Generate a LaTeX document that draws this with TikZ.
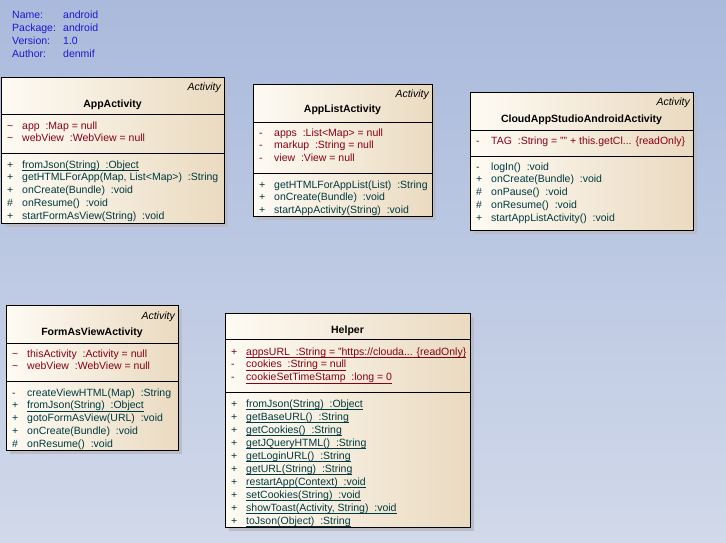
\documentclass[tikz,border=0pt]{standalone}
\usepackage{fontspec}
\setmainfont{Liberation Sans}
\definecolor{bgtop}{RGB}{170,186,220}
\definecolor{bgbot}{RGB}{209,217,234}
\definecolor{boxl}{RGB}{254,251,244}
\definecolor{boxr}{RGB}{234,218,192}
\definecolor{shadowc}{RGB}{186,189,198}
\definecolor{attrc}{RGB}{135,0,20}
\definecolor{methc}{RGB}{0,58,64}
\definecolor{metac}{RGB}{25,25,205}
\newcommand{\umlsize}{\fontsize{10.5}{12.8}\selectfont}
\newcommand{\vis}[1]{\makebox[15pt][l]{#1}}
\newcommand{\statul}[1]{\setbox0\hbox{#1}\rlap{\rule[-2.6pt]{\wd0}{0.8pt}}\box0}
\tikzset{
  classbox/.style={draw=black,line width=1pt,left color=boxl,right color=boxr,anchor=north west,inner sep=0pt},
  divider/.style={draw=black,line width=0.8pt},
  stereo/.style={font={\umlsize\itshape},anchor=base east,inner sep=0pt},
  classname/.style={font={\umlsize\bfseries},anchor=base,inner sep=0pt},
  meta/.style={font=\umlsize,text=metac,anchor=base west,inner sep=0pt},
  attr/.style={font=\umlsize,text=attrc,anchor=base west,inner sep=0pt},
  meth/.style={font=\umlsize,text=methc,anchor=base west,inner sep=0pt}
}
\begin{document}
\begin{tikzpicture}[x=1pt,y=-1pt]
  \useasboundingbox (0,0) rectangle (726,543);
  \shade[top color=bgtop,bottom color=bgbot] (0,0) rectangle (726,543);
  % model notes
  \foreach \key/\val [count=\i from 0] in {Name:/android,Package:/android,Version:/1.0,Author:/denmif}{
    \node[meta] (key\i) at (12,19+12.7*\i) {\key};
    \node[meta] (val\i) at (63,19+12.7*\i) {\val};
  }
  % AppActivity
  \fill[shadowc] (5,81) rectangle (228,227);
  \node[classbox,minimum width=223pt,minimum height=146pt] (appact) at (1,77) {};
  \node[stereo] (appact-st) at (221,91) {Activity};
  \node[classname] (appact-nm) at (112.5,107) {AppActivity};
  \draw[divider] (1,114) -- (224,114);
  \draw[divider] (1,153) -- (224,153);
  \foreach \vs/\txt [count=\i from 0] in {\textasciitilde/{app\ \ :Map = null},\textasciitilde/{webView\ \ :WebView = null}}
    \node[attr] (appact-a\i) at (7,129+12.5*\i) {\vis{\vs}\txt};
  \foreach \vs/\txt [count=\i from 0] in {+/{\statul{fromJson(String)\ \ :Object}},+/{getHTMLForApp(Map, List<Map>)\ \ :String},
      +/{onCreate(Bundle)\ \ :void},\#/{onResume()\ \ :void},+/{startFormAsView(String)\ \ :void}}
    \node[meth] (appact-m\i) at (7,168+12.83*\i) {\vis{\vs}\txt};
  % AppListActivity
  \fill[shadowc] (257,88) rectangle (436,220);
  \node[classbox,minimum width=179pt,minimum height=132pt] (applist) at (253,84) {};
  \node[stereo] (applist-st) at (429,98) {Activity};
  \node[classname] (applist-nm) at (342.5,113) {AppListActivity};
  \draw[divider] (253,122) -- (432,122);
  \draw[divider] (253,173) -- (432,173);
  \foreach \vs/\txt [count=\i from 0] in {-/{apps\ \ :List<Map> = null},-/{markup\ \ :String = null},-/{view\ \ :View = null}}
    \node[attr] (applist-a\i) at (259,136+12.83*\i) {\vis{\vs}\txt};
  \foreach \vs/\txt [count=\i from 0] in {+/{getHTMLForAppList(List)\ \ :String},+/{onCreate(Bundle)\ \ :void},+/{startAppActivity(String)\ \ :void}}
    \node[meth] (applist-m\i) at (259,188+12.83*\i) {\vis{\vs}\txt};
  % CloudAppStudioAndroidActivity
  \fill[shadowc] (474,96) rectangle (697,234);
  \node[classbox,minimum width=223pt,minimum height=138pt] (cloudact) at (470,92) {};
  \node[stereo] (cloudact-st) at (690,106) {Activity};
  \node[classname] (cloudact-nm) at (581.5,122) {CloudAppStudioAndroidActivity};
  \draw[divider] (470,130) -- (693,130);
  \draw[divider] (470,156) -- (693,156);
  \node[attr] (cloudact-a0) at (476,144) {\vis{-}TAG\ \ :String = "" + this.getCl... \{readOnly\}};
  \foreach \vs/\txt [count=\i from 0] in {-/{logIn()\ \ :void},+/{onCreate(Bundle)\ \ :void},\#/{onPause()\ \ :void},
      \#/{onResume()\ \ :void},+/{startAppListActivity()\ \ :void}}
    \node[meth] (cloudact-m\i) at (476,170+12.83*\i) {\vis{\vs}\txt};
  % FormAsViewActivity
  \fill[shadowc] (10,309) rectangle (182,454);
  \node[classbox,minimum width=172pt,minimum height=145pt] (formact) at (6,305) {};
  \node[stereo] (formact-st) at (175,319) {Activity};
  \node[classname] (formact-nm) at (92,335) {FormAsViewActivity};
  \draw[divider] (6,343) -- (178,343);
  \draw[divider] (6,381) -- (178,381);
  \foreach \vs/\txt [count=\i from 0] in {\textasciitilde/{thisActivity\ \ :Activity = null},\textasciitilde/{webView\ \ :WebView = null}}
    \node[attr] (formact-a\i) at (12,357+12.5*\i) {\vis{\vs}\txt};
  \foreach \vs/\txt [count=\i from 0] in {-/{createViewHTML(Map)\ \ :String},+/{\statul{fromJson(String)\ \ :Object}},
      +/{gotoFormAsView(URL)\ \ :void},+/{onCreate(Bundle)\ \ :void},\#/{onResume()\ \ :void}}
    \node[meth] (formact-m\i) at (12,396+12.83*\i) {\vis{\vs}\txt};
  % Helper
  \fill[shadowc] (229,317) rectangle (474,531);
  \node[classbox,minimum width=245pt,minimum height=214pt] (helper) at (225,313) {};
  \node[classname] (helper-nm) at (347.5,333) {Helper};
  \draw[divider] (225,339) -- (470,339);
  \draw[divider] (225,392) -- (470,392);
  \foreach \vs/\txt [count=\i from 0] in {+/{\statul{appsURL\ \ :String = "https://clouda... \{readOnly\}}},
      -/{\statul{cookies\ \ :String = null}},-/{\statul{cookieSetTimeStamp\ \ :long = 0}}}
    \node[attr] (helper-a\i) at (231,355+12.9*\i) {\vis{\vs}\txt};
  \foreach \vs/\txt [count=\i from 0] in {+/{fromJson(String)\ \ :Object},+/{getBaseURL()\ \ :String},+/{getCookies()\ \ :String},
      +/{getJQueryHTML()\ \ :String},+/{getLoginURL()\ \ :String},+/{getURL(String)\ \ :String},+/{restartApp(Context)\ \ :void},
      +/{setCookies(String)\ \ :void},+/{showToast(Activity, String)\ \ :void},+/{toJson(Object)\ \ :String}}
    \node[meth] (helper-m\i) at (231,407+13*\i) {\vis{\vs}\statul{\txt}};
\end{tikzpicture}
\end{document}
